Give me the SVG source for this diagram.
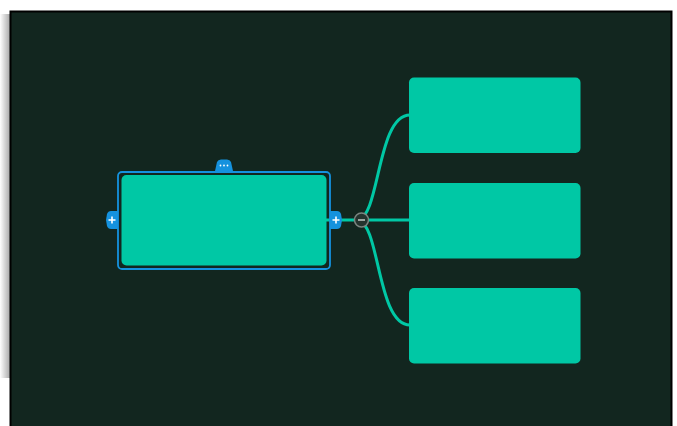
<svg xmlns="http://www.w3.org/2000/svg" width="677" height="426" viewBox="0 0 677 426">
  <defs>
    <linearGradient id="sh" x1="0" y1="0" x2="1" y2="0">
      <stop offset="0" stop-color="#ffffff"/>
      <stop offset="1" stop-color="#a9a9a9"/>
    </linearGradient>
    <style>
      .node { fill: #00c8a5; }
      .edge { fill: none; stroke: #00c8a5; stroke-width: 3; }
      .handle { fill: #1592de; }
      .glyph { stroke: #ffffff; stroke-width: 1.6; fill: none; }
    </style>
  </defs>
  <rect x="0" y="0" width="677" height="426" fill="#ffffff"/>
  <rect x="0" y="14" width="10" height="364" fill="url(#sh)"/>
  <rect x="10.5" y="11.5" width="661" height="420" fill="#12261f" stroke="#000000" stroke-width="2"/>

  <g id="connectors">
    <line class="edge" x1="326" y1="220" x2="410" y2="220"/>
    <path class="edge" d="M358,220 C380,216 377,115 410,115"/>
    <path class="edge" d="M358,220 C380,224 377,325 410,325"/>
  </g>

  <g id="root">
    <rect x="118" y="172" width="212" height="97" rx="4" fill="none" stroke="#1592de" stroke-width="1.8"/>
    <rect class="node" x="121.5" y="175" width="205" height="90.5" rx="5"/>
    <g id="handle-top">
      <path class="handle" d="M215,171 L217,162 Q218,159.5 221,159.5 L227,159.5 Q230,159.5 231,162 L233,171 Z"/>
      <circle cx="220.5" cy="165.5" r="0.9" fill="#fff"/>
      <circle cx="224" cy="165.5" r="0.9" fill="#fff"/>
      <circle cx="227.5" cy="165.5" r="0.9" fill="#fff"/>
    </g>
    <g id="handle-left">
      <path class="handle" d="M118,211 L111,211 Q108,211 107,214 L106,220 L107,226 Q108,229 111,229 L118,229 Z"/>
      <path class="glyph" d="M108.5,220 H115.5 M112,216.5 V223.5"/>
    </g>
    <g id="handle-right">
      <path class="handle" d="M330,211 L337,211 Q340,211 341,214 L342,220 L341,226 Q340,229 337,229 L330,229 Z"/>
      <path class="glyph" d="M332.5,220 H339.5 M336,216.5 V223.5"/>
    </g>
  </g>

  <g id="collapse">
    <circle cx="361.5" cy="220" r="7" fill="#24332e" stroke="#7b8580" stroke-width="1.5"/>
    <line x1="358" y1="220" x2="365" y2="220" stroke="#b8c0bc" stroke-width="1.6"/>
  </g>

  <g id="child-1"><rect class="node" x="409" y="77.5" width="171.5" height="75.5" rx="5"/></g>
  <g id="child-2"><rect class="node" x="409" y="183" width="171.5" height="75.5" rx="5"/></g>
  <g id="child-3"><rect class="node" x="409" y="288" width="171.5" height="75.5" rx="5"/></g>
</svg>
